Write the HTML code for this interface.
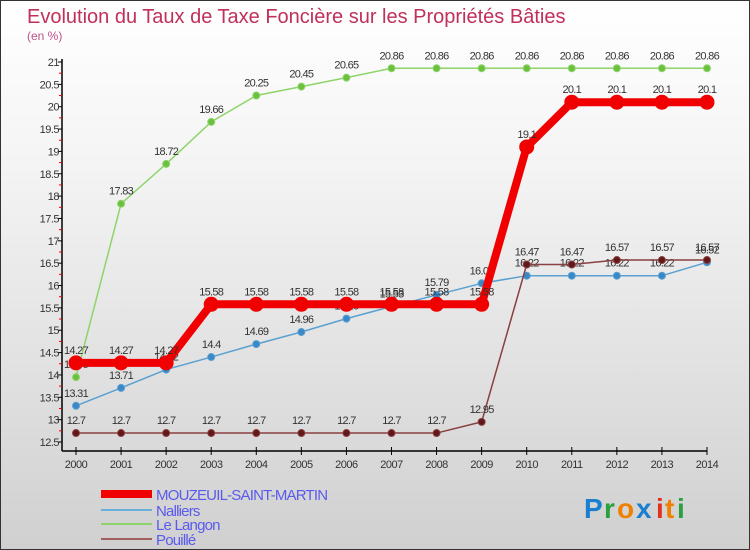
<!DOCTYPE html>
<html><head><meta charset="utf-8"><style>
body{margin:0}
#wrap{width:748px;height:548px;border:1px solid #333;background:linear-gradient(#fff 0%,#f4f4f4 30%,#d0d0d0 100%);position:relative;overflow:hidden;font-family:"Liberation Sans",sans-serif}
</style></head><body>
<div id="wrap">
<svg id="svg" width="748" height="548">
<text x="26" y="22" font-size="20" fill="#c0305a">Evolution du Taux de Taxe Foncière sur les Propriétés Bâties</text>
<text x="26" y="39" font-size="12" fill="#c0508a">(en %)</text>
<g id="plot"></g>
<g font-size="28" font-family="Liberation Sans, sans-serif" font-weight="bold">
<text x="583" y="517" fill="#1a7fd0">P</text><text x="603" y="517" fill="#2aa040">r</text><text x="616" y="517" fill="#f08000">o</text><text x="635" y="517" fill="#1a7fd0">x</text><text x="655" y="517" fill="#e03020">i</text><text x="664" y="517" fill="#f08000">t</text><text x="676" y="517" fill="#2aa040">i</text>
</g>
</svg>
</div>
<script>
const years=[2000,2001,2002,2003,2004,2005,2006,2007,2008,2009,2010,2011,2012,2013,2014];
const mouzeuil=[14.27,14.27,14.27,15.58,15.58,15.58,15.58,15.58,15.58,15.58,19.1,20.1,20.1,20.1,20.1];
const nalliers=[13.31,13.71,14.12,14.4,14.69,14.96,15.26,15.53,15.79,16.05,16.22,16.22,16.22,16.22,16.52];
const langon=[13.95,17.83,18.72,19.66,20.25,20.45,20.65,20.86,20.86,20.86,20.86,20.86,20.86,20.86,20.86];
const pouille=[12.7,12.7,12.7,12.7,12.7,12.7,12.7,12.7,12.7,12.95,16.47,16.47,16.57,16.57,16.57];
const yTicks=[12.5,13,13.5,14,14.5,15,15.5,16,16.5,17,17.5,18,18.5,19,19.5,20,20.5,21];
const seriesNames=["MOUZEUIL-SAINT-MARTIN","Nalliers","Le Langon","Pouillé"];
const NS="http://www.w3.org/2000/svg";
const g=document.getElementById('plot');
const xs=i=>75+i*(631/14);
const ys=v=>441-(v-12.5)*(380/8.5);
function mk(t,a,p){const e=document.createElementNS(NS,t);for(const k in a)e.setAttribute(k,a[k]);(p||g).appendChild(e);return e;}
let ax=mk('line',{x1:61,y1:58,x2:61,y2:450,stroke:'#000','stroke-width':1.5});


let bx=mk('line',{x1:61,y1:450,x2:706,y2:450,stroke:'#000','stroke-width':1.5});


yTicks.forEach((v,i)=>{
 mk('line',{x1:57,y1:ys(v),x2:61,y2:ys(v),stroke:'#000'});
 if(i<yTicks.length-1)mk('line',{x1:58,y1:ys(v+0.25),x2:61,y2:ys(v+0.25),stroke:'#e00'});
 const t=mk('text',{x:58,y:ys(v)+4,'text-anchor':'end','font-size':11,fill:'#333','letter-spacing':'-0.5'});
 t.textContent=v;
 
 
});
years.forEach((y,i)=>{
 mk('line',{x1:xs(i),y1:446,x2:xs(i),y2:454,stroke:'#000'});
 const t=mk('text',{x:xs(i),y:467,'text-anchor':'middle','font-size':11,fill:'#333','letter-spacing':'-0.5'});
 t.textContent=y;
 
 
});
function series(vals,color,w,r,fill,name){
 const sg=mk('g',{});
 
 
 mk('polyline',{points:vals.map((v,i)=>xs(i)+','+ys(v)).join(' '),fill:'none',stroke:color,'stroke-width':w,'stroke-linejoin':'round'},sg);
 vals.forEach((v,i)=>{
  const c=mk('circle',{cx:xs(i),cy:ys(v),r:r,fill:fill,stroke:color,'stroke-width':1},sg);
  
  
  const t=mk('text',{x:xs(i),y:ys(v)-9,'text-anchor':'middle','font-size':11,fill:'#333','letter-spacing':'-0.7'},sg);
  t.textContent=v;
 });
}
series(langon,'#8ed46a',1.5,3.5,'#6cc040','le-langon-series');
series(nalliers,'#5aa0d0',1.5,3.5,'#3a88c8','nalliers-series');
series(pouille,'#8a4040',1.5,3.5,'#601818','pouille-series');
series(mouzeuil,'#f00000',8,7,'#f00000','mouzeuil-series');
const leg=[['#f00000',8],['#6aaedc',2],['#8ed46a',2],['#a06060',2]];
leg.forEach((l,i)=>{
 const y=[493,509,523,538][i];
 const lg=mk('g',{});
 
 
 mk('line',{x1:100,y1:y,x2:151,y2:y,stroke:l[0],'stroke-width':l[1]},lg);
 const t=mk('text',{x:155,y:y+6,'font-size':15,fill:'#5a5aee','letter-spacing':'-0.8'},lg);
 t.textContent=seriesNames[i];
});
</script>
</body></html>
